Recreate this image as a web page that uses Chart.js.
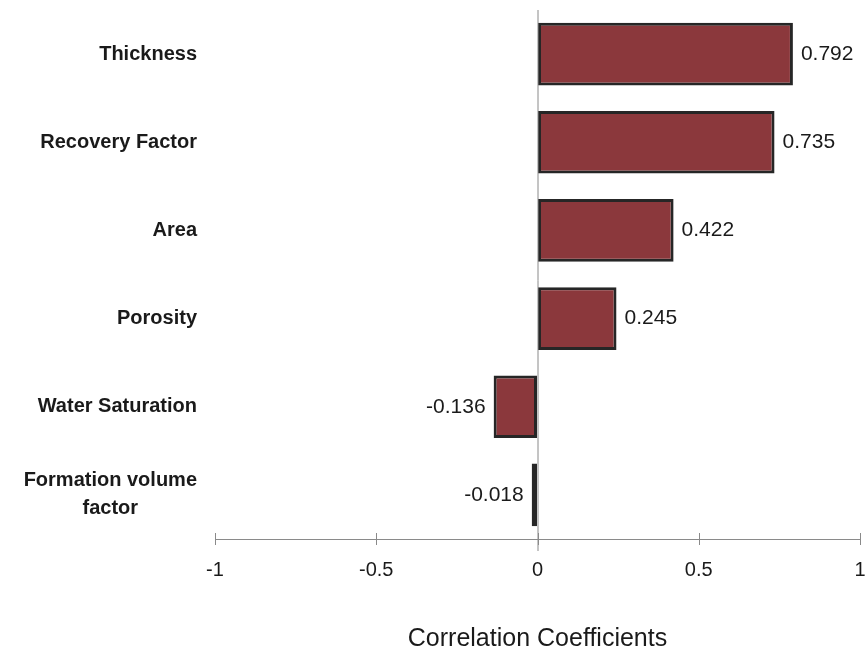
<!DOCTYPE html>
<html>
<head>
<meta charset="utf-8">
<script src="https://cdn.jsdelivr.net/npm/chart.js@4"></script>
<style>
  body { margin: 0; background: #fff; }
  canvas { display: block; }
</style>
</head>
<body>
<canvas id="chart" width="866" height="654"></canvas>
<script>
// data
const categories = ['Thickness', 'Recovery Factor', 'Area', 'Porosity', 'Water Saturation', ['Formation volume', 'factor']];
const coefficients = [0.792, 0.735, 0.422, 0.245, -0.136, -0.018];
const tickValues = [-1, -0.5, 0, 0.5, 1];
const axisTitle = 'Correlation Coefficients';

const fontFamily = '"Liberation Sans", Arial, sans-serif';

// labels, zero line and cross ticks drawn from the scales
let decorations = {
    id: 'decorations',
    afterDraw(chart) {
        let ctx = chart.ctx;
        let xs = chart.scales.x;
        let ys = chart.scales.y;
        let area = chart.chartArea;
        ctx.save();

        // zero line
        let x0 = xs.getPixelForValue(0);
        ctx.strokeStyle = '#8a8a8a';
        ctx.lineWidth = 1;
        ctx.beginPath();
        ctx.moveTo(x0 + 0.5, area.top);
        ctx.lineTo(x0 + 0.5, area.bottom + 12);
        ctx.stroke();

        // tick marks crossing the axis line
        tickValues.forEach(function (v) {
            let x = Math.round(xs.getPixelForValue(v)) + 0.5;
            ctx.beginPath();
            ctx.moveTo(x, area.bottom - 6);
            ctx.lineTo(x, area.bottom + 6);
            ctx.stroke();
        });

        // category labels
        ctx.fillStyle = '#1a1a1a';
        ctx.font = 'bold 20px ' + fontFamily;
        ctx.textBaseline = 'middle';
        categories.forEach(function (label, i) {
            let y = ys.getPixelForValue(i);
            let lines = Array.isArray(label) ? label : [label];
            let widest = Math.max.apply(null, lines.map(function (l) { return ctx.measureText(l).width; }));
            let right = 197;
            let lh = 28;
            lines.forEach(function (line, j) {
                let ly = y + (j - (lines.length - 1) / 2) * lh;
                ctx.textAlign = 'center';
                ctx.fillText(line, right - widest / 2, ly);
            });
        });

        // value labels
        ctx.font = '21px ' + fontFamily;
        ctx.fillStyle = '#1a1a1a';
        coefficients.forEach(function (v, i) {
            let y = ys.getPixelForValue(i);
            let x = xs.getPixelForValue(v);
            if (v >= 0) {
                ctx.textAlign = 'left';
                ctx.fillText(v.toFixed(3), x + 8, y);
            } else {
                ctx.textAlign = 'right';
                ctx.fillText(v.toFixed(3), x - 8, y);
            }
        });
        ctx.restore();
    }
};

let ctx = document.getElementById('chart').getContext('2d');
let config = {
    type: 'bar',
    data: {
        labels: categories,
        datasets: [{
            data: coefficients,
            backgroundColor: '#8b383c',
            borderColor: '#262626',
            borderWidth: 3,
            borderSkipped: false,
            barPercentage: 0.71,
            categoryPercentage: 1
        }]
    },
    options: {
        indexAxis: 'y',
        responsive: false,
        animation: false,
        layout: { padding: { left: 215, right: 6, top: 10, bottom: 0 } },
        plugins: {
            legend: { display: false },
            tooltip: { enabled: false }
        },
        scales: {
            y: { display: false },
            x: {
                min: -1,
                max: 1,
                afterBuildTicks: function (scale) {
                    scale.ticks = tickValues.map(function (v) { return { value: v }; });
                },
                afterFit: function (scale) {
                    scale.paddingLeft = 0;
                    scale.paddingRight = 0;
                },
                grid: { drawOnChartArea: false, drawTicks: false },
                border: { display: true, color: '#8a8a8a', width: 1 },
                ticks: {
                    padding: 19,
                    color: '#1a1a1a',
                    font: { family: fontFamily, size: 20 },
                    callback: function (v) { return String(v); }
                },
                title: {
                    display: true,
                    text: axisTitle,
                    color: '#1a1a1a',
                    font: { family: fontFamily, size: 25 },
                    padding: { top: 23, bottom: 0 }
                }
            }
        }
    },
    plugins: [decorations]
};

let correlationChart = new Chart(ctx, config);
</script>
</body>
</html>
